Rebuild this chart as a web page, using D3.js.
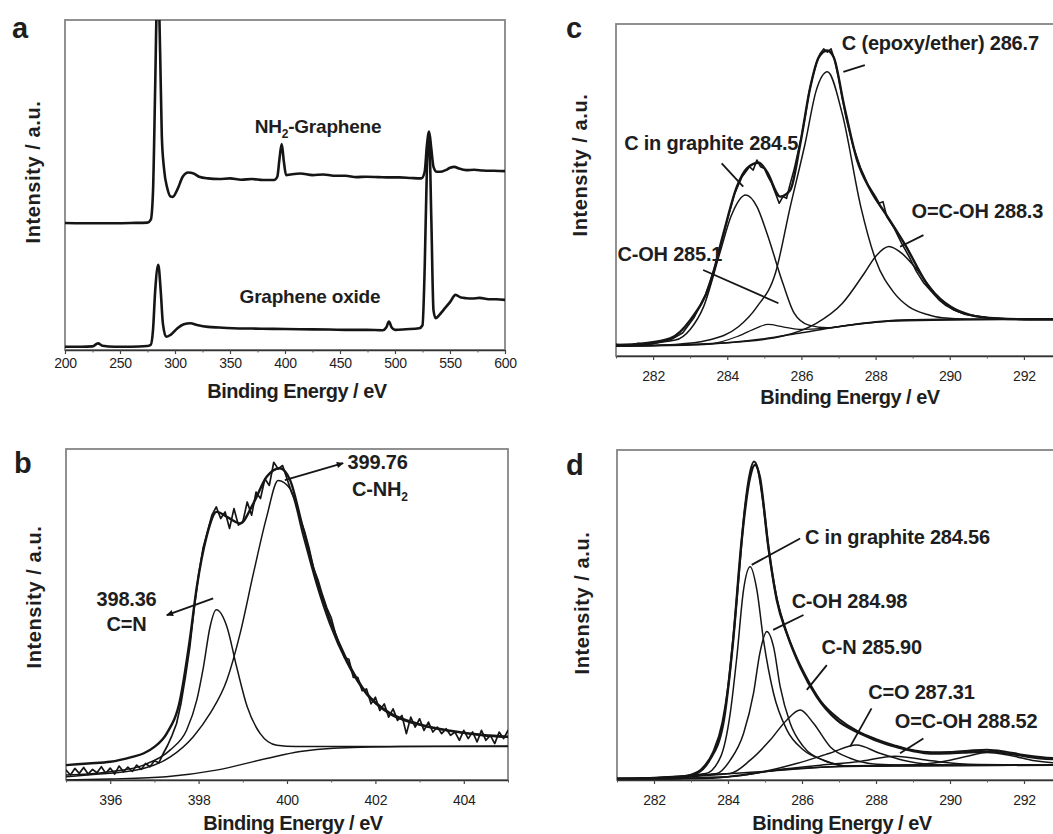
<!DOCTYPE html>
<html><head><meta charset="utf-8">
<script src="https://cdn.jsdelivr.net/npm/d3@7"></script>
<style>
body{margin:0;background:#fff;}
svg{display:block;}
text{font-family:"Liberation Sans",Arial,Helvetica,sans-serif;fill:#1e1e1e;}
</style></head><body>
<script>
// ---------------- DATA (binding energy eV, intensity a.u.) ----------------
// Panel a : survey spectra
const ticksA = [200,250,300,350,400,450,500,550,600];
const minorA = [225,275,325,375,425,475,525,575];
const surveyNH2 = [[200,38.5],[230,38.4],[260,38.5],[275,38.6],[278,39.5],[280,48],[282,80],[283.5,105],[285,108],[286.5,90],[288,65],[290,55],[293,49],[296,46.5],[298,46.4],[302,48.5],[307,52.5],[312,53.8],[317,53.5],[322,52.5],[330,52],[340,51.8],[350,52],[360,51.6],[370,51.8],[380,51.5],[390,51.5],[393,52.5],[395,58],[397,62.4],[399,57],[401,53],[405,53.2],[414,53.5],[425,53],[435,53.2],[444,52.8],[455,52.8],[465,52.4],[474,52.5],[485,52.4],[495,52.3],[504,52.3],[515,52.1],[524,52],[527,54],[529,62],[531,66.2],[533,61],[535,55.5],[538,54],[541,54],[546,54.5],[550,55.2],[554,55.5],[558,55],[565,54.5],[572,54.6],[580,54.4],[590,54.3],[600,54.2]];
const surveyGO = [[200,1.0],[215,1.0],[225,1.1],[230,2.0],[234,1.3],[245,1.0],[260,1.0],[275,1.2],[278,1.6],[280,6],[282,18],[284.8,25.8],[287,18],[289,8],[292,4.0],[296,4.6],[302,6.5],[308,7.8],[314,8.1],[320,7.6],[330,7.0],[340,6.8],[353,6.6],[370,6.5],[390,6.4],[413,6.3],[440,6.2],[460,6.1],[474,6.1],[489,6.0],[492,6.8],[494.5,8.6],[497,6.8],[500,6.1],[510,6.3],[522,6.6],[525,7.5],[527,25],[529,55],[531,65],[533,40],[535,12],[537,9.6],[540,10.5],[544,12.1],[550,14.5],[555,16.7],[560,15.9],[565,15.7],[570,15.6],[577,15.8],[585,15.4],[592,15.4],[600,15.2]];

// Panel b : N1s
const ticksB = [396,398,400,402,404];
const minorB = [395,397,399,401,403,405];
const n1sRaw = [[395.0,3.0],[395.1,1.5],[395.2,3.5],[395.3,2.0],[395.4,3.8],[395.5,1.8],[395.6,3.2],[395.7,2.2],[395.8,4.0],[395.9,2.0],[396.0,3.6],[396.1,1.8],[396.2,4.2],[396.3,2.5],[396.4,3.9],[396.5,2.6],[396.6,4.5],[396.7,3.2],[396.8,5.0],[396.9,4.0],[397.0,5.8],[397.1,5.2],[397.2,8.0],[397.3,10.5],[397.4,13.5],[397.5,17],[397.6,23],[397.7,31],[397.8,40],[397.9,52],[398.0,62],[398.1,70],[398.2,75],[398.3,80],[398.4,82.5],[398.5,79],[398.6,81],[398.7,76],[398.8,82],[398.9,77],[399.0,78],[399.1,84],[399.2,80],[399.3,87],[399.4,85],[399.5,91],[399.6,89],[399.7,96],[399.8,94],[399.9,95],[400.0,91],[400.1,87],[400.2,84],[400.3,79],[400.4,75],[400.5,70],[400.6,64],[400.7,60.5],[400.8,56],[400.9,52],[401.0,49],[401.1,44],[401.2,40.5],[401.3,37],[401.4,36.5],[401.5,31],[401.6,31],[401.7,27],[401.8,27.5],[401.9,23],[402.0,25],[402.1,21],[402.2,23],[402.3,19],[402.4,21.5],[402.5,18],[402.6,19.5],[402.7,14],[402.8,19],[402.9,16],[403.0,18.5],[403.1,15],[403.2,17.5],[403.3,14.5],[403.4,16],[403.5,14],[403.6,15.5],[403.7,13.5],[403.8,14.5],[403.9,12],[404.0,15],[404.1,12.5],[404.2,14.5],[404.3,11.5],[404.4,15],[404.5,12],[404.6,13.5],[404.7,11],[404.8,14.5],[404.9,12.5],[405.0,15]];
const n1sFit = [[395.0,4.5],[395.5,5.0],[396.0,5.5],[396.5,7.0],[396.75,8],[397.0,10],[397.28,14.1],[397.58,24.2],[397.8,42.3],[397.96,58.4],[398.18,73.5],[398.41,81],[398.64,79.5],[398.94,77.5],[399.24,83.6],[399.54,91.6],[399.84,94.2],[400.07,90.6],[400.37,75.5],[400.67,60.4],[400.97,48.3],[401.35,36.3],[401.8,26.2],[402.33,20.2],[402.93,17.1],[403.69,14.9],[404.44,13.6],[405.0,13.1]];
const n1sCN = [[395,1.5],[396,2.5],[396.75,4.5],[397.36,9.1],[397.73,15.1],[397.96,24.2],[398.11,34.2],[398.26,46.3],[398.4,51.4],[398.64,46.3],[398.86,34.2],[399.1,22.1],[399.39,14.1],[399.77,10.5],[400.2,10.1],[405,10.1]];
const n1sCNH2 = [[395,1.0],[395.5,1.5],[396.75,3.5],[397.36,7],[397.88,13.1],[398.26,20.1],[398.64,30.2],[398.94,44.3],[399.24,62.4],[399.54,79.5],[399.8,90.5],[400.07,88],[400.37,73.5],[400.67,59],[400.97,47],[401.35,35.5],[401.8,25.8],[402.33,19.8],[402.93,16.8],[403.69,14.7],[404.44,13.4],[405,12.9]];
const n1sBg = [[395,0],[396,0.3],[397.27,1],[398.4,3],[399.54,6.5],[400.3,8.6],[401.05,9.6],[402.56,10.1],[405,10.3]];

// Panel c : C1s graphene oxide
const ticksC = [282,284,286,288,290,292];
const minorC = [281,283,285,287,289,291,293];
const c1sGORaw = [[281.0,3.5],[281.3,3.0],[281.6,3.8],[281.9,3.4],[282.2,4.2],[282.5,5.0],[282.8,7.0],[283.1,11.5],[283.4,18],[283.7,28],[284.0,41],[284.2,49],[284.4,54],[284.6,57],[284.7,56],[284.8,59],[284.9,57],[285.0,56.5],[285.1,54],[285.2,52],[285.3,49],[285.4,46],[285.5,48],[285.6,47.5],[285.7,52],[285.8,56],[285.9,61],[286.0,66],[286.1,72],[286.2,79],[286.3,84],[286.4,88],[286.5,91],[286.6,92.5],[286.7,91.5],[286.8,92.5],[286.9,89],[287.0,84],[287.1,78],[287.2,72],[287.4,63],[287.6,56.5],[287.8,51.5],[288.0,48],[288.1,46],[288.2,46.5],[288.3,42],[288.5,38.5],[288.7,34],[288.9,30],[289.1,25.5],[289.3,22],[289.5,19.5],[289.7,17],[289.9,15.2],[290.1,14],[290.4,12.6],[290.7,12],[291.0,11.5],[291.5,11.2],[292.0,11],[292.5,11],[293,11]];
const c1sGOFit = [[281.0,3.3],[281.74,3.8],[282.46,5.3],[283.0,10.8],[283.54,21.9],[283.9,37],[284.26,51],[284.53,56.5],[284.85,58.2],[285.07,55.5],[285.43,48],[285.7,50],[285.97,64],[286.24,81],[286.47,90],[286.69,92],[286.87,90],[287.14,76],[287.5,59],[287.86,50],[288.32,42],[288.77,34],[289.49,20],[290.03,14.8],[290.57,12.3],[291.29,11.3],[292.37,11],[293,11]];
const c1sGOGraphite = [[281,3.0],[282.6,4.8],[283.0,8],[283.36,14.8],[283.8,31],[284.1,42],[284.5,48.5],[284.8,45],[285.07,37],[285.5,21.9],[285.8,13],[286.2,9.3],[286.7,8.5],[287.2,9.2],[288,10.3],[289,10.9],[293,11.1]];
const c1sGOCOH = [[281,3.0],[283.5,3.6],[284.3,6],[284.8,8.5],[285.1,9.5],[285.5,8.8],[286.0,8.0],[286.6,8.3],[287.5,9.6],[288.5,10.5],[293,11.1]];
const c1sGOEpoxy = [[281,3.0],[282.6,3.5],[283.5,4.8],[284.3,8.8],[284.8,14.8],[285.3,25],[285.7,45],[286.1,64],[286.4,80],[286.7,85.6],[287.1,73],[287.6,45],[288.0,29],[288.5,19],[288.9,14.8],[289.4,12.5],[289.8,11.5],[290.5,11.1],[293,11.1]];
const c1sGOCOOH = [[281,3.0],[284,4.0],[285.5,6],[286.4,9.8],[287.1,15.8],[287.7,25],[288.0,30],[288.36,33],[288.7,31],[289.04,27],[289.6,19],[290.1,13.9],[290.8,11.9],[291.5,11.2],[293,11.1]];
const c1sGOBg = [[281,3.0],[282,3.1],[283,3.3],[284,4.0],[285,5.2],[286,7.0],[287,8.8],[288,10.2],[289,10.9],[290,11.1],[293,11.1]];

// Panel d : C1s NH2-graphene
const ticksD = [282,284,286,288,290,292];
const minorD = [281,283,285,287,289,291,293];
const c1sNRaw = [[281,0.5],[282,0.6],[282.6,0.8],[283.0,1.6],[283.3,3.5],[283.6,8.5],[283.85,17.5],[284.0,28],[284.15,44],[284.3,63],[284.45,82],[284.6,93.5],[284.7,96.5],[284.8,94.5],[284.95,84],[285.1,70],[285.3,56],[285.5,47.5],[285.8,38.5],[286.1,31.5],[286.5,24],[287.0,18.5],[287.5,14.8],[288.0,12.4],[288.5,10.5],[289.0,9.0],[289.5,8.4],[290.0,8.5],[290.5,8.9],[291.0,9.2],[291.5,8.6],[292.0,7.6],[292.5,6.9],[293,6.5]];
const c1sNFit = [[281,0.3],[282.6,0.5],[283.15,2],[283.5,6],[283.87,17],[284.14,42.4],[284.37,72.7],[284.6,91.9],[284.73,95.5],[284.86,91.9],[285.09,70.7],[285.32,54.5],[285.59,44.4],[285.95,34.3],[286.4,25.2],[286.94,18.2],[287.57,14.1],[288.3,10.8],[288.56,10.0],[289,8.8],[289.46,8.0],[290,8.1],[290.36,8.3],[291.08,8.6],[291.8,7.6],[292.43,6.6],[293,6.3]];
const c1sNGraphite = [[281,0.2],[283.4,2],[283.8,7],[284.06,20.2],[284.24,37.4],[284.42,57.6],[284.6,64.6],[284.78,57.6],[284.96,42.4],[285.23,26.3],[285.59,15.2],[286.04,9.1],[286.58,6],[287.3,4.2],[288.5,4.4],[293,4.5]];
const c1sNCOH = [[281,0.2],[283.7,2],[284.06,6],[284.42,14.1],[284.69,26.3],[284.86,38.4],[285.05,45],[285.23,40.4],[285.41,28.3],[285.68,17.2],[286.04,10.1],[286.58,6],[287.3,4.2],[288.5,4.4],[293,4.5]];
const c1sNCN = [[281,0.2],[284.06,2],[284.6,6],[285.14,12.1],[285.59,18.2],[285.95,21.2],[286.31,17.2],[286.76,10.1],[287.3,6.6],[288.03,4.8],[289,4.5],[293,4.5]];
const c1sNCO = [[281,0.2],[284.0,1.0],[284.95,2.5],[285.85,5],[286.75,8.1],[287.47,10.6],[288.1,8.1],[288.73,6],[289.46,4.8],[290.5,4.5],[293,4.5]];
const c1sNCOOH = [[281,0.2],[284,1],[285.5,3.3],[286.5,4.5],[287.5,5.5],[288.52,7.2],[289.5,5.8],[290.5,4.8],[293,4.5]];
const c1sNShake = [[281,0.2],[285,2.6],[287,4.2],[289,4.6],[290.0,6.0],[290.5,7.3],[291.0,8.3],[291.6,7.5],[292.3,5.8],[293,5.0]];
const c1sNBg = [[281,0.2],[283.5,0.5],[284,1],[284.95,2.5],[285.86,3.5],[287.66,4.2],[293,4.5]];

// ---------------- DRAWING ----------------
const svg = d3.select("body").append("svg").attr("width",1053).attr("height",834);
const defs = svg.append("defs");
defs.append("marker").attr("id","ah").attr("viewBox","0 0 10 10")
  .attr("refX",9).attr("refY",5).attr("markerWidth",10).attr("markerHeight",7)
  .attr("markerUnits","userSpaceOnUse").attr("orient","auto")
  .append("path").attr("d","M0,0.5L10,5L0,9.5z").attr("fill","#111");

const smooth = d3.curveMonotoneX, lin = d3.curveLinear;

function drawPanel(p){
  const x = d3.scaleLinear().domain(p.xDomain).range([p.left,p.right]);
  const y = d3.scaleLinear().domain([0,100]).range([p.bottom,p.top]);
  const g = svg.append("g");
  defs.append("clipPath").attr("id","clip"+p.id).append("rect")
    .attr("x",p.left).attr("y",p.top).attr("width",p.right-p.left).attr("height",p.bottom-p.top);
  g.append("rect").attr("x",p.left).attr("y",p.top).attr("width",p.right-p.left).attr("height",p.bottom-p.top)
    .attr("fill","none").attr("stroke","#858585").attr("stroke-width",1.8);
  const plot = g.append("g").attr("clip-path",`url(#clip${p.id})`);
  p.series.forEach(s=>{
    plot.append("path").datum(s.data)
      .attr("d",d3.line().x(d=>x(d[0])).y(d=>y(d[1])).curve(s.curve||smooth))
      .attr("fill","none").attr("stroke","#151515").attr("stroke-width",s.w)
      .attr("stroke-linejoin","round").attr("stroke-linecap","round");
  });
  // major axis
  const ax = g.append("g").attr("transform",`translate(0,${p.bottom})`)
    .call(d3.axisBottom(x).tickValues(p.ticks).tickSize(4).tickSizeOuter(0).tickPadding(p.pad).tickFormat(d3.format("d")));
  ax.select(".domain").attr("stroke","#333").attr("stroke-width",1.6);
  ax.selectAll(".tick line").attr("stroke","#444").attr("stroke-width",1.2);
  ax.selectAll(".tick text").attr("font-size",14).attr("letter-spacing",-0.2).attr("fill","#222");
  // minor ticks
  const mx = g.append("g").attr("transform",`translate(0,${p.bottom})`)
    .call(d3.axisBottom(x).tickValues(p.minor).tickSize(2.5).tickSizeOuter(0).tickFormat(""));
  mx.select(".domain").remove();
  mx.selectAll(".tick line").attr("stroke","#555");
  // titles
  g.append("text").attr("x",p.xTitle[0]).attr("y",p.xTitle[1]).attr("text-anchor","middle")
    .attr("font-size",20).attr("font-weight","bold").attr("letter-spacing",-0.5).text("Binding Energy / eV");
  g.append("text").attr("transform",`translate(${p.yTitle[0]},${p.yTitle[1]}) rotate(-90)`)
    .attr("text-anchor","middle").attr("dominant-baseline","central")
    .attr("font-size",20).attr("font-weight","bold").attr("letter-spacing",0.6).text("Intensity / a.u.");
  g.append("text").attr("x",p.letter[0]).attr("y",p.letter[1]).attr("font-size",29)
    .attr("font-weight","bold").attr("fill","#111").text(p.id);
  // annotations
  (p.notes||[]).forEach(n=>{
    const t = g.append("text").attr("x",x(n.at[0])).attr("y",y(n.at[1]))
      .attr("font-size",n.size||20).attr("font-weight","bold").attr("letter-spacing",-0.2)
      .attr("text-anchor",n.anchor||"start");
    if(n.sub){
      t.append("tspan").text(n.sub[0]);
      t.append("tspan").attr("font-size",12).attr("dy",5).text(n.sub[1]);
      t.append("tspan").attr("dy",-5).text(n.sub[2]);
    } else t.text(n.text);
  });
  (p.arrows||[]).forEach(a=>{
    const l = g.append("line").attr("x1",x(a.from[0])).attr("y1",y(a.from[1]))
      .attr("x2",x(a.to[0])).attr("y2",y(a.to[1])).attr("stroke","#151515").attr("stroke-width",1.8);
    if(a.head) l.attr("marker-end","url(#ah)");
  });
}

drawPanel({id:"a", xDomain:[200,600], left:65, right:505, top:20, bottom:350,
  ticks:ticksA, minor:minorA, pad:4, xTitle:[297,398], yTitle:[33,172], letter:[12,38],
  series:[{data:surveyNH2,w:2.6},{data:surveyGO,w:2.6}],
  notes:[{at:[430,65.8],anchor:"middle",size:19,sub:["NH","2","-Graphene"]},
         {at:[422.7,14.2],anchor:"middle",size:19,text:"Graphene oxide"}]
});

drawPanel({id:"b", xDomain:[395,405], left:66, right:508, top:449, bottom:780,
  ticks:ticksB, minor:minorB, pad:11, xTitle:[293,830], yTitle:[34,597], letter:[14,473],
  series:[{data:n1sBg,w:1.4},{data:n1sCN,w:1.5},{data:n1sCNH2,w:1.5},
          {data:n1sRaw,w:1.7,curve:lin},{data:n1sFit,w:2.4}],
  notes:[{at:[402.05,94],anchor:"middle",text:"399.76"},
         {at:[402.1,85.8],anchor:"middle",sub:["C-NH","2",""]},
         {at:[396.37,52.6],anchor:"middle",text:"398.36"},
         {at:[396.37,45],anchor:"middle",text:"C=N"}],
  arrows:[{from:[399.95,90.6],to:[401.27,95.7],head:true},
          {from:[398.33,54.9],to:[397.28,49.8],head:true}]
});

drawPanel({id:"c", xDomain:[281,293], left:616, right:1061, top:24, bottom:356,
  ticks:ticksC, minor:minorC, pad:11, xTitle:[850,404], yTitle:[580,165], letter:[566,38],
  series:[{data:c1sGOBg,w:1.5},{data:c1sGOCOH,w:1.3},{data:c1sGOGraphite,w:1.5},
          {data:c1sGOEpoxy,w:1.5},{data:c1sGOCOOH,w:1.5},
          {data:c1sGORaw,w:1.6,curve:lin},{data:c1sGOFit,w:2.4}],
  notes:[{at:[287.09,92.2],text:"C (epoxy/ether) 286.7"},
         {at:[288.97,41.6],text:"O=C-OH 288.3"},
         {at:[281.04,28.6],text:"C-OH 285.1"},
         {at:[281.22,62],text:"C in graphite 284.5"}],
  arrows:[{from:[287.13,85.6],to:[287.71,87.6]},
          {from:[288.66,32.9],to:[289.29,36.4]},
          {from:[283.35,25.9],to:[285.38,15.9]},
          {from:[283.85,58],to:[284.43,51]}]
});

drawPanel({id:"d", xDomain:[281,293], left:617, right:1061, top:450, bottom:780,
  ticks:ticksD, minor:minorD, pad:11, xTitle:[842,830], yTitle:[582,603], letter:[566,475],
  series:[{data:c1sNBg,w:1.5},{data:c1sNShake,w:1.5},{data:c1sNCOOH,w:1.5},{data:c1sNCO,w:1.5},
          {data:c1sNCN,w:1.5},{data:c1sNCOH,w:1.5},{data:c1sNGraphite,w:1.5},
          {data:c1sNRaw,w:2.0},{data:c1sNFit,w:2.4}],
  notes:[{at:[286.08,71.5],text:"C in graphite 284.56"},
         {at:[285.72,52.1],text:"C-OH 284.98"},
         {at:[286.53,38.2],text:"C-N 285.90"},
         {at:[287.79,24.5],text:"C=O 287.31"},
         {at:[288.51,15.8],text:"O=C-OH 288.52"}],
  arrows:[{from:[284.64,65.2],to:[285.95,73.2]},
          {from:[285.22,45.5],to:[286.04,50]},
          {from:[286.13,27.3],to:[286.67,34.8]},
          {from:[287.3,10.1],to:[287.88,21.7]},
          {from:[288.65,8.1],to:[289.28,12.6]}]
});
</script>
</body></html>
